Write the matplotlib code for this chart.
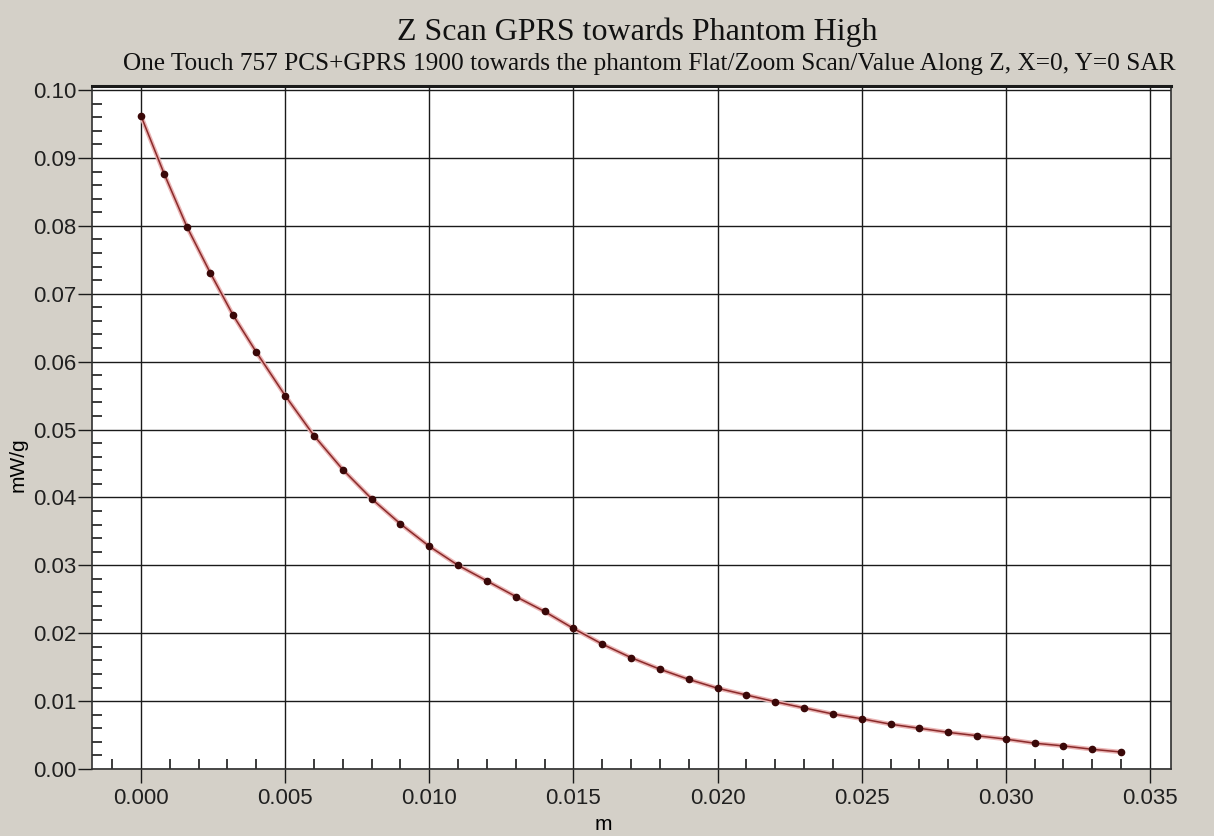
import numpy as np
import matplotlib.pyplot as plt
from matplotlib.ticker import MultipleLocator, FormatStrFormatter

# Z 扫描数据 (m, mW/g)
z_pos = [0.0, 0.0008, 0.0016, 0.0024, 0.0032, 0.004,
         0.005, 0.006, 0.007, 0.008, 0.009, 0.010, 0.011, 0.012, 0.013,
         0.014, 0.015, 0.016, 0.017, 0.018, 0.019, 0.020, 0.021, 0.022,
         0.023, 0.024, 0.025, 0.026, 0.027, 0.028, 0.029, 0.030, 0.031,
         0.032, 0.033, 0.034]
sar = [0.0962, 0.0877, 0.0798, 0.0731, 0.0668, 0.0614,
       0.0550, 0.0491, 0.0441, 0.0398, 0.0361, 0.0328, 0.0300, 0.0277, 0.0254,
       0.0232, 0.0207, 0.0184, 0.0164, 0.0147, 0.0132, 0.0119, 0.0109, 0.0099,
       0.0090, 0.0081, 0.0074, 0.0066, 0.0060, 0.0054, 0.0049, 0.0044, 0.0038,
       0.0034, 0.0029, 0.0025]

title = 'Z Scan GPRS towards Phantom High'
subtitle = ('One Touch 757 PCS+GPRS 1900 towards the phantom Flat/Zoom Scan/'
            'Value Along Z, X=0, Y=0 SAR')

bg = '#d4d0c8'
fig = plt.figure(figsize=(12.14, 8.36), dpi=100, facecolor=bg)
ax = fig.add_axes([92 / 1214, 67 / 836, (1171 - 92) / 1214, (769 - 86) / 836])
ax.set_facecolor('white')

# 曲线 + 数据点
ax.plot(z_pos, sar, color='#eab4b4', lw=3.2, zorder=3, solid_capstyle='round')
ax.plot(z_pos, sar, color='#8a2a2a', lw=1.1, zorder=4)
ax.plot(z_pos, sar, ls='none', marker='o', ms=4.5, color='#3a0808', zorder=5)

ax.set_xlim(-0.0017, 0.03573)
ax.set_ylim(0, 0.1006)

ax.xaxis.set_major_locator(MultipleLocator(0.005))
ax.xaxis.set_minor_locator(MultipleLocator(0.001))
ax.yaxis.set_major_locator(MultipleLocator(0.01))
ax.yaxis.set_minor_locator(MultipleLocator(0.002))
ax.xaxis.set_major_formatter(FormatStrFormatter('%.3f'))
ax.yaxis.set_major_formatter(FormatStrFormatter('%.2f'))

ax.grid(True, which='major', color='#1a1a1a', lw=1.0)
ax.set_axisbelow(True)

tick_font = {'family': 'Liberation Sans', 'size': 15}
ax.tick_params(which='major', direction='out', length=10, width=1.0,
               color='#1a1a1a', labelsize=16, pad=1)
ax.tick_params(which='minor', direction='in', length=7, width=1.2,
               color='#1a1a1a')
ax.tick_params(axis='x', which='major', pad=4)
for lab in ax.get_xticklabels() + ax.get_yticklabels():
    lab.set_fontfamily('Liberation Sans')
    lab.set_color('#202020')

for side in ['left', 'bottom', 'right']:
    ax.spines[side].set_color('#303030')
    ax.spines[side].set_linewidth(1.2)
ax.spines['top'].set_color('#1a1a1a')
ax.spines['top'].set_linewidth(2.2)

ax.set_xlabel('m', fontdict=tick_font)
ax.set_ylabel('mW/g', fontdict=tick_font)
ax.xaxis.set_label_coords((603 - 92) / 1079, -46 / 683)
ax.yaxis.set_label_coords(-64 / 1079, (769 - 465) / 683)

fig.text(0.525, 0.962, title, ha='center', va='center',
         family='Liberation Serif', fontsize=23, color='#111111')
fig.text(0.535, 0.924, subtitle, ha='center', va='center',
         family='Liberation Serif', fontsize=18.2, color='#111111')

fig.savefig('out.png', dpi=100, facecolor=bg)
